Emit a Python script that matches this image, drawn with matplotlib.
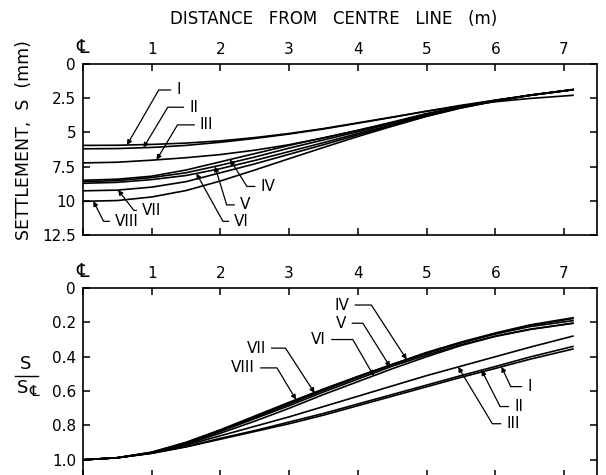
import numpy as np
import matplotlib.pyplot as plt
from matplotlib.lines import Line2D

# distance from centre line (m)
dist = [0, 0.5, 1, 1.5, 2, 2.5, 3, 3.5, 4, 4.5, 5, 5.5, 6, 6.5, 7.13]

# settlement S (mm), curves I - VIII
s_I = [5.95, 5.94, 5.88, 5.78, 5.62, 5.38, 5.08, 4.72, 4.30, 3.88, 3.45, 3.08, 2.76, 2.52, 2.29]
s_II = [6.20, 6.18, 6.10, 5.95, 5.72, 5.44, 5.12, 4.75, 4.33, 3.90, 3.45, 3.02, 2.64, 2.30, 1.88]
s_III = [7.23, 7.18, 7.03, 6.85, 6.62, 6.30, 5.90, 5.40, 4.85, 4.25, 3.62, 3.10, 2.65, 2.28, 1.88]
s_IV = [8.50, 8.42, 8.20, 7.75, 7.15, 6.55, 5.95, 5.40, 4.85, 4.28, 3.68, 3.15, 2.68, 2.28, 1.88]
s_V = [8.60, 8.52, 8.30, 7.95, 7.40, 6.80, 6.15, 5.55, 4.95, 4.35, 3.72, 3.15, 2.68, 2.28, 1.88]
s_VI = [8.72, 8.65, 8.45, 8.15, 7.65, 7.05, 6.40, 5.75, 5.08, 4.45, 3.78, 3.18, 2.70, 2.29, 1.88]
s_VII = [9.27, 9.22, 9.00, 8.60, 7.95, 7.30, 6.60, 5.90, 5.18, 4.50, 3.80, 3.20, 2.70, 2.28, 1.86]
s_VIII = [10.04, 9.98, 9.72, 9.25, 8.55, 7.75, 6.92, 6.10, 5.30, 4.55, 3.83, 3.22, 2.72, 2.30, 1.88]

# normalised settlement S / S(centre line)
n_I = [1.0, 0.988, 0.962, 0.925, 0.88, 0.835, 0.79, 0.74, 0.685, 0.63, 0.575, 0.52, 0.468, 0.415, 0.355]
n_II = [1.0, 0.988, 0.962, 0.923, 0.875, 0.83, 0.78, 0.73, 0.675, 0.62, 0.565, 0.51, 0.457, 0.402, 0.34]
n_III = [1.0, 0.988, 0.96, 0.915, 0.86, 0.805, 0.75, 0.69, 0.63, 0.57, 0.51, 0.455, 0.40, 0.345, 0.28]
n_IV = [1.0, 0.988, 0.958, 0.905, 0.83, 0.755, 0.675, 0.595, 0.52, 0.445, 0.375, 0.315, 0.262, 0.215, 0.173]
n_V = [1.0, 0.988, 0.958, 0.905, 0.835, 0.76, 0.685, 0.605, 0.53, 0.455, 0.39, 0.33, 0.28, 0.24, 0.205]
n_VI = [1.0, 0.988, 0.96, 0.91, 0.845, 0.775, 0.70, 0.62, 0.545, 0.47, 0.40, 0.335, 0.282, 0.242, 0.205]
n_VII = [1.0, 0.988, 0.957, 0.90, 0.828, 0.75, 0.67, 0.59, 0.515, 0.445, 0.38, 0.32, 0.268, 0.225, 0.19]
n_VIII = [1.0, 0.988, 0.955, 0.898, 0.825, 0.745, 0.665, 0.588, 0.515, 0.445, 0.378, 0.318, 0.265, 0.218, 0.178]

names = ['I', 'II', 'III', 'IV', 'V', 'VI', 'VII', 'VIII']
top_curves = [s_I, s_II, s_III, s_IV, s_V, s_VI, s_VII, s_VIII]
bot_curves = [n_I, n_II, n_III, n_IV, n_V, n_VI, n_VII, n_VIII]

x_ticks = [0, 1, 2, 3, 4, 5, 6, 7]
x_labels = ['\u2104', '1', '2', '3', '4', '5', '6', '7']
top_yticks = [0, 2.5, 5, 7.5, 10, 12.5]
top_ylabels = ['0', '2.5', '5', '7.5', '10', '12.5']
bot_yticks = [0, 0.2, 0.4, 0.6, 0.8, 1.0]
bot_ylabels = ['0', '0.2', '0.4', '0.6', '0.8', '1.0']

# label placement: name -> (x of arrow on curve, text x, text y, leader angle)
top_notes = {
    'I': (0.64, 1.39, 1.9, 60),
    'II': (0.88, 1.61, 3.16, 59),
    'III': (1.07, 1.80, 4.45, 59),
    'IV': (2.14, 2.69, 8.95, -58),
    'V': (1.92, 2.36, 10.3, -73),
    'VI': (1.65, 2.31, 11.5, -61),
    'VII': (0.51, 1.0, 10.7, -52),
    'VIII': (0.15, 0.64, 11.5, -63),
}
bot_notes = {
    'I': (6.09, 6.50, 0.574, -65),
    'II': (5.80, 6.34, 0.69, -63),
    'III': (5.46, 6.26, 0.79, -59),
    'IV': (4.71, 3.77, 0.099, -57),
    'V': (4.47, 3.76, 0.205, -58),
    'VI': (4.23, 3.43, 0.30, -60),
    'VII': (3.37, 2.52, 0.35, -57),
    'VIII': (3.10, 2.33, 0.465, -59),
}

W, H = 606, 475
fig = plt.figure(figsize=(W / 100, H / 100), dpi=100)
ax1 = fig.add_axes([83 / W, 1 - 235 / H, 514 / W, 171 / H])
ax2 = fig.add_axes([83 / W, 1 - 477 / H, 514 / W, 189 / H])


def style_axes(ax, yticks, ylabels, ylim):
    ax.set_xlim(0, 7.48)
    ax.set_ylim(*ylim)
    ax.set_xticks(x_ticks)
    ax.set_xticklabels(x_labels)
    ax.set_yticks(yticks)
    ax.set_yticklabels(ylabels)
    ax.tick_params(direction='in', length=5, width=1.1, top=True, right=True,
                   labeltop=True, labelbottom=False, labelsize=11, pad=5)
    # the centre-line sign is drawn bigger than the digits
    ax.get_xticklabels()[0].set_fontsize(14)
    for sp in ax.spines.values():
        sp.set_linewidth(1.2)


def add_notes(ax, curves, notes):
    for name, curve in zip(names, curves):
        xa, tx, ty, ang = notes[name]
        ya = np.interp(xa, dist, curve)
        ax.annotate(name, xy=(xa, ya), xytext=(tx, ty), ha='center', va='center',
                    fontsize=11,
                    arrowprops=dict(arrowstyle='-|>', color='k', lw=0.9,
                                    mutation_scale=7, shrinkA=2, shrinkB=0,
                                    connectionstyle='angle,angleA=0,angleB=%g,rad=0' % ang))


for curve in top_curves:
    ax1.plot(dist, curve, color='k', lw=1.2)
for curve in bot_curves:
    ax2.plot(dist, curve, color='k', lw=1.2)

style_axes(ax1, top_yticks, top_ylabels, (12.5, 0))
style_axes(ax2, bot_yticks, bot_ylabels, (1.1, 0))
add_notes(ax1, top_curves, top_notes)
add_notes(ax2, bot_curves, bot_notes)

fig.text(334 / W, 1 - 19 / H, 'DISTANCE   FROM   CENTRE   LINE   (m)', ha='center', va='center', fontsize=12)
fig.text(24 / W, 1 - 140 / H, 'SETTLEMENT,  S  (mm)', rotation=90, ha='center', va='center', fontsize=12.5)

# S / S(centre line) fraction label
fig.text(26 / W, 1 - 364 / H, 'S', ha='center', va='center', fontsize=13)
fig.text(23 / W, 1 - 388 / H, 'S', ha='center', va='center', fontsize=13)
fig.text(34 / W, 1 - 392 / H, '\u2104', ha='center', va='center', fontsize=11)
fig.add_artist(Line2D([15 / W, 38 / W], [1 - 376 / H, 1 - 376 / H], color='k', lw=1.0))

fig.savefig('out.png', dpi=100)
